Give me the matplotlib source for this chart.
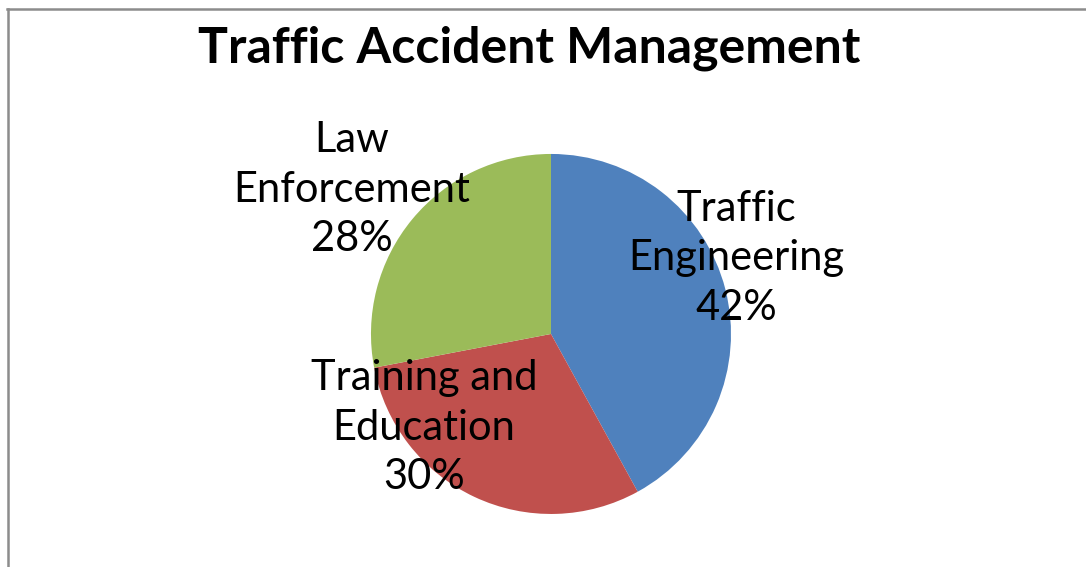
import matplotlib.pyplot as plt
from matplotlib.lines import Line2D

# Data
categories = ["Traffic\nEngineering", "Training and\nEducation", "Law\nEnforcement"]
shares = [42, 30, 28]
colors = ["#4F81BD", "#C0504D", "#9BBB59"]

# label centres, relative to pie centre in radius units
label_pos = [(1.03, 0.42), (-0.705, -0.52), (-1.105, 0.80)]

plt.rcParams['font.family'] = ['Lato', 'DejaVu Sans']

fig = plt.figure(figsize=(10.86, 5.67), dpi=100)

# chart area border (left and top only visible)
fig.add_artist(Line2D([0.0074, 0.0074], [0, 0.984], transform=fig.transFigure,
                      color='#8c8c8c', lw=1.8))
fig.add_artist(Line2D([0.0065, 1.0], [0.984, 0.984], transform=fig.transFigure,
                      color='#8c8c8c', lw=1.8))

fig.text(0.487, 0.915, "Traffic Accident Management", fontsize=36,
         fontweight='bold', ha='center', va='center')

ax = fig.add_axes([0.3416, 0.0935, 0.3315, 0.635])
ax.pie(shares, colors=colors, startangle=90, counterclock=False,
       radius=1.0, wedgeprops=dict(linewidth=0))
ax.set_xlim(-1, 1)
ax.set_ylim(-1, 1)
ax.set_aspect('equal')
ax.axis('off')

for (dx, dy), cat, val in zip(label_pos, categories, shares):
    ax.text(dx, dy, f"{cat}\n{val}%", fontsize=30, ha='center', va='center',
            linespacing=1.37, clip_on=False)

fig.savefig("out.png", dpi=100)
